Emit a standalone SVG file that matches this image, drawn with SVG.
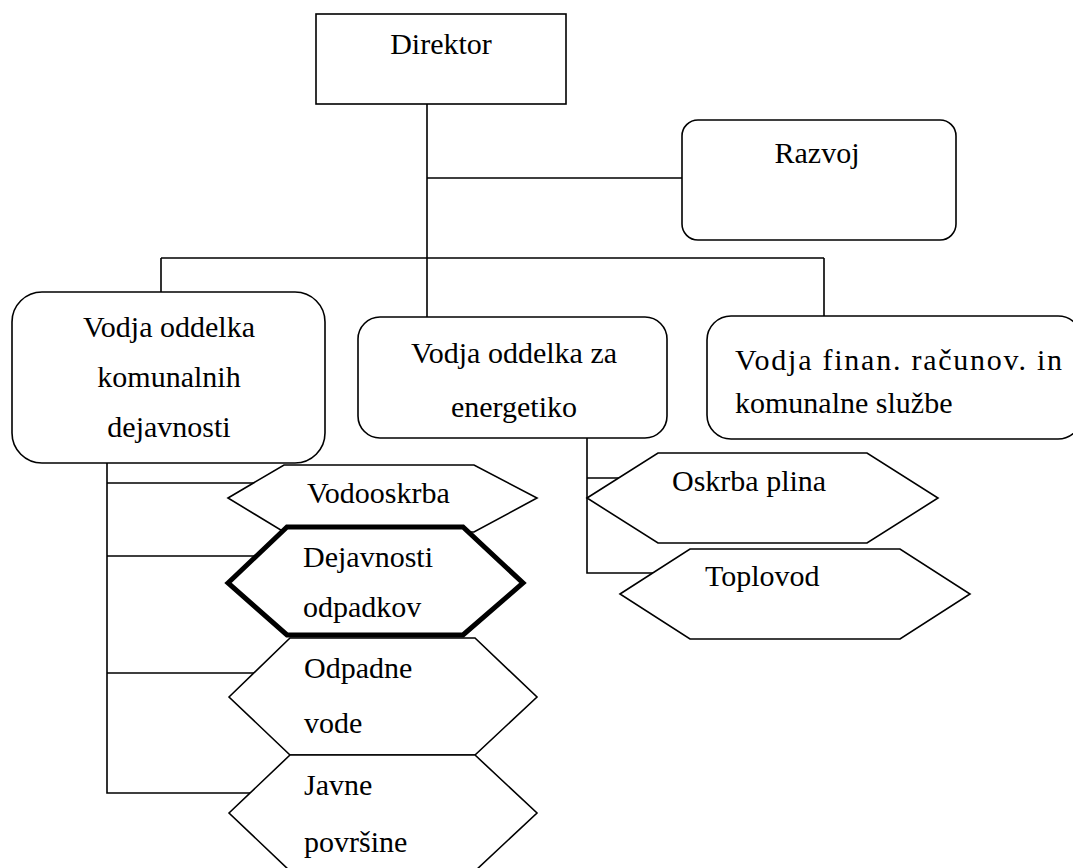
<svg xmlns="http://www.w3.org/2000/svg" width="1073" height="868" viewBox="0 0 1073 868">
<style>
.box{fill:#fff;stroke:#000;stroke-width:1.6}
.thick{fill:#fff;stroke:#000;stroke-width:5;stroke-linejoin:miter}
.ln{fill:none;stroke:#000;stroke-width:1.6}
text{font-family:"Times New Roman",Tinos,"Liberation Serif","DejaVu Serif",serif;font-size:30px;fill:#000}
.c{text-anchor:middle}
</style>
<rect width="1073" height="868" fill="#fff"/>
<g id="connectors">
<path class="ln" d="M427,104 V317 M427,178 H682 M161,258 H824 M161,258 V292 M824,258 V316"/>
<path class="ln" d="M107,463 V793 H250 M107,483 H260 M107,556 H260 M107,673 H260"/>
<path class="ln" d="M587,438 V573 H660 M587,478 H630"/>
</g>
<g id="direktor">
<rect class="box" x="316" y="14" width="250" height="90"/>
<text class="c" x="441" y="54">Direktor</text>
</g>
<g id="razvoj">
<rect class="box" x="682" y="120" width="274" height="120" rx="16"/>
<text class="c" x="817" y="163">Razvoj</text>
</g>
<g id="komunalne">
<rect class="box" x="12" y="292" width="313" height="171" rx="30"/>
<text class="c" x="169" y="337">Vodja oddelka</text>
<text class="c" x="169" y="387">komunalnih</text>
<text class="c" x="169" y="437">dejavnosti</text>
</g>
<g id="energetika">
<rect class="box" x="358" y="317" width="309" height="121" rx="22"/>
<text class="c" x="514" y="363">Vodja oddelka za</text>
<text class="c" x="514" y="417">energetiko</text>
</g>
<g id="finance">
<rect class="box" x="707" y="316" width="375" height="123" rx="24"/>
<text x="735" y="370" textLength="327" lengthAdjust="spacing">Vodja finan. računov. in</text>
<text x="735" y="413">komunalne službe</text>
</g>
<g id="vodooskrba">
<polygon class="box" points="228,498 284,465 474,465 537,498 474,532 284,532"/>
<text x="307" y="503">Vodooskrba</text>
</g>
<g id="odpadne">
<polygon class="box" points="229,697 290,638 475,638 537,697 475,755 290,755"/>
<text x="304" y="678">Odpadne</text>
<text x="304" y="733">vode</text>
</g>
<g id="javne">
<polygon class="box" points="229,813 290,755 475,755 537,813 475,871 290,871"/>
<text x="304" y="795">Javne</text>
<text x="304" y="852">površine</text>
</g>
<g id="odpadki">
<polygon class="thick" points="228,583 287,527 463,527 523,583 463,635 287,635"/>
<text x="303" y="567">Dejavnosti</text>
<text x="303" y="617">odpadkov</text>
</g>
<g id="plin">
<polygon class="box" points="587,498 658,453 867,453 938,498 867,543 658,543"/>
<text x="672" y="491">Oskrba plina</text>
</g>
<g id="toplovod">
<polygon class="box" points="620,594 690,549 900,549 970,594 900,639 690,639"/>
<text x="705" y="586">Toplovod</text>
</g>
</svg>
